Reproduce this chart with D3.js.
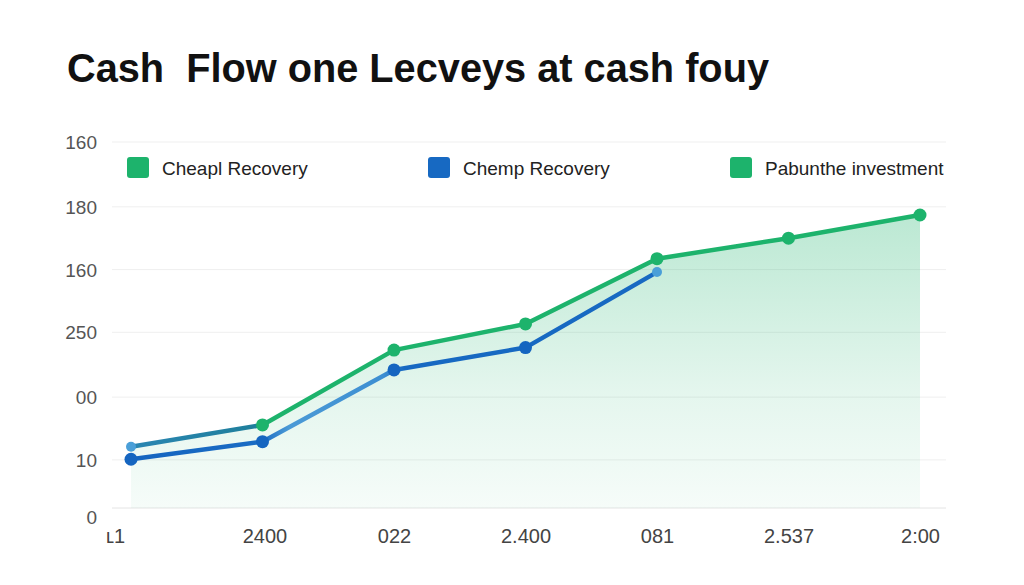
<!DOCTYPE html>
<html>
<head>
<meta charset="utf-8">
<script src="https://cdn.jsdelivr.net/npm/d3@7"></script>
<style>
  body { margin: 0; background: #fff; }
  svg { display: block; font-family: "Liberation Sans", Arial, sans-serif; }
</style>
</head>
<body>
<svg id="chart"></svg>
<script>
// GLOBALS
var w = 1024, h = 585;

var title = "Cash  Flow one Lecveys at cash fouy";
var xLabels = ["\u029F1", "2400", "022", "2.400", "081", "2.537", "2:00"];
var yTickValues = [0, 23, 53, 84, 114, 144, 175];
var yTickLabels = ["0", "10", "00", "250", "160", "180", "160"];

var legendNames = ["Cheapl Recovery", "Chemp Recovery", "Pabunthe investment"];
var legendColors = ["#1db36c", "#1769c2", "#1db36c"];

// investment line (green, with area) and recovery line (blue)
var greenValues = [29.3, 39.7, 75.5, 88, 119.2, 129, 140.1];
var blueValues = [23.3, 31.7, 66, 76.7, 112.8];

var svg = d3.select("#chart").attr("width", w).attr("height", h);

var x = d3.scalePoint().domain(xLabels).range([131, 920]);
var y = d3.scaleLinear().domain([0, 175]).range([508, 142]);

var defs = svg.append("defs");

var areaGrad = defs.append("linearGradient")
  .attr("id", "areaGrad")
  .attr("gradientUnits", "userSpaceOnUse")
  .attr("x1", 0).attr("x2", 0)
  .attr("y1", y(d3.max(greenValues))).attr("y2", y(0));
areaGrad.append("stop").attr("offset", 0).attr("stop-color", "#1db36c").attr("stop-opacity", 0.3);
areaGrad.append("stop").attr("offset", 0.6).attr("stop-color", "#1db36c").attr("stop-opacity", 0.12);
areaGrad.append("stop").attr("offset", 1).attr("stop-color", "#1db36c").attr("stop-opacity", 0.04);

function along(i, n) {
  return (x(xLabels[i]) - x(xLabels[0])) / (x(xLabels[n]) - x(xLabels[0]));
}

var greenGrad = defs.append("linearGradient")
  .attr("id", "greenGrad")
  .attr("gradientUnits", "userSpaceOnUse")
  .attr("x1", x(xLabels[0])).attr("x2", x(xLabels[6]))
  .attr("y1", 0).attr("y2", 0);
greenGrad.append("stop").attr("offset", 0).attr("stop-color", "#2a86b2");
greenGrad.append("stop").attr("offset", along(1, 6) - 0.01).attr("stop-color", "#1f7f9c");
greenGrad.append("stop").attr("offset", along(1, 6) + 0.01).attr("stop-color", "#1db36c");
greenGrad.append("stop").attr("offset", 1).attr("stop-color", "#1db36c");

var blueGrad = defs.append("linearGradient")
  .attr("id", "blueGrad")
  .attr("gradientUnits", "userSpaceOnUse")
  .attr("x1", x(xLabels[0])).attr("x2", x(xLabels[4]))
  .attr("y1", 0).attr("y2", 0);
blueGrad.append("stop").attr("offset", 0).attr("stop-color", "#1565c0");
blueGrad.append("stop").attr("offset", along(1, 4)).attr("stop-color", "#1a6cc4");
blueGrad.append("stop").attr("offset", along(1, 4) + 0.05).attr("stop-color", "#4b9ad6");
blueGrad.append("stop").attr("offset", along(2, 4) - 0.02).attr("stop-color", "#3d8fd2");
blueGrad.append("stop").attr("offset", along(2, 4) + 0.02).attr("stop-color", "#1769c2");
blueGrad.append("stop").attr("offset", 1).attr("stop-color", "#1769c2");

// title
svg.append("text")
  .attr("x", 67).attr("y", 82)
  .attr("font-size", 40)
  .attr("font-weight", "bold")
  .attr("fill", "#111")
  .attr("textLength", 702)
  .attr("lengthAdjust", "spacingAndGlyphs")
  .style("white-space", "pre")
  .text(title);

// grid
svg.append("g").selectAll("line")
  .data(yTickValues)
  .enter().append("line")
    .attr("x1", 112).attr("x2", 946)
    .attr("y1", function(d) { return y(d); })
    .attr("y2", function(d) { return y(d); })
    .attr("stroke", function(d, i) { return i === 0 ? "#e4e4e4" : "#efefef"; })
    .attr("stroke-width", 1);

// y axis labels
var yAxis = d3.axisLeft(y)
  .tickValues(yTickValues)
  .tickSize(0)
  .tickPadding(0)
  .tickFormat(function(d, i) { return yTickLabels[i]; });

var gy = svg.append("g").attr("transform", "translate(97,0)").call(yAxis);
gy.select(".domain").remove();
gy.selectAll("text")
  .attr("font-size", 19)
  .attr("font-family", "Liberation Sans, Arial, sans-serif")
  .attr("fill", "#555")
  .attr("dy", function(d, i) { return i === 0 ? "0.8em" : "0.35em"; });

// x axis labels
var xAxis = d3.axisBottom(x).tickSize(0).tickPadding(0);
var gx = svg.append("g").attr("transform", "translate(0,528)").call(xAxis);
gx.select(".domain").remove();
gx.selectAll("text")
  .attr("font-size", 20)
  .attr("font-family", "Liberation Sans, Arial, sans-serif")
  .attr("fill", "#444")
  .attr("dy", "0.73em")
  .attr("dx", function(d, i) { return i === 0 ? -16 : (i === 1 ? 2 : 0); });

// area under investment line
var area = d3.area()
  .x(function(d, i) { return x(xLabels[i]); })
  .y0(y(0))
  .y1(function(d) { return y(d); });

svg.append("path")
  .datum(greenValues)
  .attr("d", area)
  .attr("fill", "url(#areaGrad)");

var line = d3.line()
  .x(function(d, i) { return x(xLabels[i]); })
  .y(function(d) { return y(d); });

svg.append("path")
  .datum(blueValues)
  .attr("d", line)
  .attr("fill", "none")
  .attr("stroke", "url(#blueGrad)")
  .attr("stroke-width", 4.5)
  .attr("stroke-linejoin", "round");

svg.append("path")
  .datum(greenValues)
  .attr("d", line)
  .attr("fill", "none")
  .attr("stroke", "url(#greenGrad)")
  .attr("stroke-width", 4.5)
  .attr("stroke-linejoin", "round");

// dots
svg.append("g").selectAll("circle")
  .data(blueValues)
  .enter().append("circle")
    .attr("cx", function(d, i) { return x(xLabels[i]); })
    .attr("cy", function(d) { return y(d); })
    .attr("r", function(d, i) { return i === blueValues.length - 1 ? 5 : 6.5; })
    .attr("fill", function(d, i) { return i === blueValues.length - 1 ? "#4a9fd8" : "#1565c0"; });

svg.append("g").selectAll("circle")
  .data(greenValues)
  .enter().append("circle")
    .attr("cx", function(d, i) { return x(xLabels[i]); })
    .attr("cy", function(d) { return y(d); })
    .attr("r", function(d, i) { return i === 0 ? 5 : 6.5; })
    .attr("fill", function(d, i) { return i === 0 ? "#4a9fd8" : "#1db36c"; });

// legend
var legendX = [127, 428, 730];
var legend = svg.append("g").selectAll("g")
  .data(legendNames)
  .enter().append("g")
    .attr("transform", function(d, i) { return "translate(" + legendX[i] + ",157)"; });

legend.append("rect")
  .attr("width", 22).attr("height", 21)
  .attr("rx", 3)
  .attr("fill", function(d, i) { return legendColors[i]; });

legend.append("text")
  .attr("x", 35).attr("y", 11)
  .attr("dy", "0.35em")
  .attr("font-size", 19)
  .attr("fill", "#222")
  .text(function(d) { return d; });
</script>
</body>
</html>
